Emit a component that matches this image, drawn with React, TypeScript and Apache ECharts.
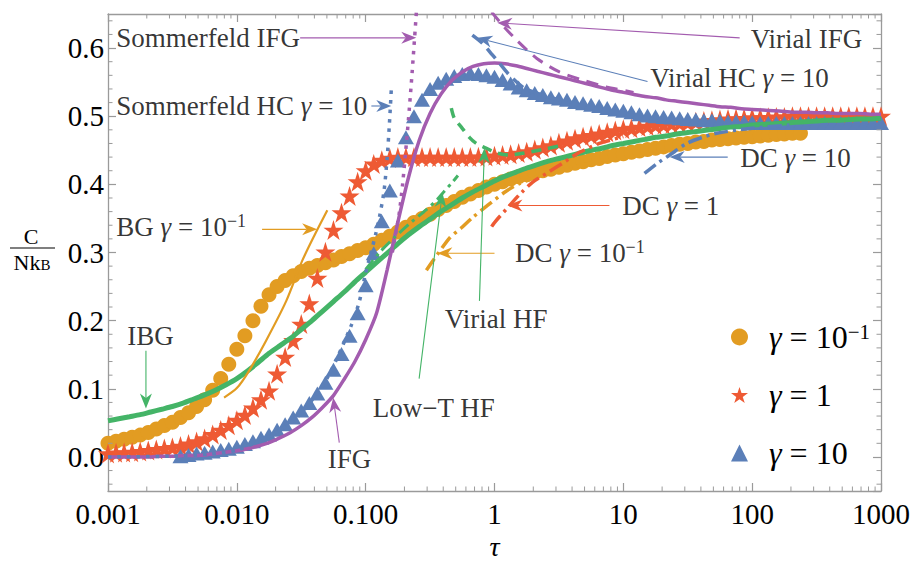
import React, { useEffect, useRef } from "react";
import * as echarts from "echarts";

// ---------- sample temperatures (tau) ----------
// grid used by the marker series (16 samples per decade)
const markerTau = [
  0.001, 0.001155, 0.001334, 0.00154, 0.001778, 0.002054, 0.002371, 0.002738, 0.003162, 0.003652, 0.004217, 0.00487, 0.005623, 0.006494, 0.007499, 0.00866,
  0.01, 0.01155, 0.01334, 0.0154, 0.01778, 0.02054, 0.02371, 0.02738, 0.03162, 0.03652, 0.04217, 0.0487, 0.05623, 0.06494, 0.07499, 0.0866,
  0.1, 0.1155, 0.1334, 0.154, 0.1778, 0.2054, 0.2371, 0.2738, 0.3162, 0.3652, 0.4217, 0.487, 0.5623, 0.6494, 0.7499, 0.866,
  1, 1.155, 1.334, 1.54, 1.778, 2.054, 2.371, 2.738, 3.162, 3.652, 4.217, 4.87, 5.623, 6.494, 7.499, 8.66,
  10, 11.55, 13.34, 15.4, 17.78, 20.54, 23.71, 27.38, 31.62, 36.52, 42.17, 48.7, 56.23, 64.94, 74.99, 86.6,
  100, 115.5, 133.4, 154, 177.8, 205.4, 237.1, 273.8, 316.2, 365.2, 421.7, 487, 562.3, 649.4, 749.9, 866,
  1000,
];
// grid used by the solid curves (12 samples per decade)
const lineTau = [
  0.001, 0.00121, 0.00147, 0.00178, 0.00215, 0.00261, 0.00316, 0.00383, 0.00464, 0.00562, 0.00681, 0.00825,
  0.01, 0.0121, 0.0147, 0.0178, 0.0215, 0.0261, 0.0316, 0.0383, 0.0464, 0.0562, 0.0681, 0.0825,
  0.1, 0.121, 0.147, 0.178, 0.215, 0.261, 0.316, 0.383, 0.464, 0.562, 0.681, 0.825,
  1, 1.21, 1.47, 1.78, 2.15, 2.61, 3.16, 3.83, 4.64, 5.62, 6.81, 8.25,
  10, 12.1, 14.7, 17.8, 21.5, 26.1, 31.6, 38.3, 46.4, 56.2, 68.1, 82.5,
  100, 121, 147, 178, 215, 261, 316, 383, 464, 562, 681, 825, 1000,
];

// ---------- marker series (C / N k_B) ----------
const circlesC = [
  0.020, 0.023, 0.026, 0.029, 0.032, 0.036, 0.041, 0.046, 0.051, 0.058, 0.065, 0.074, 0.084, 0.098, 0.115, 0.136,
  0.158, 0.178, 0.200, 0.221, 0.238, 0.250, 0.259, 0.266, 0.272, 0.277, 0.281, 0.285, 0.289, 0.294, 0.298, 0.303,
  0.307, 0.312, 0.318, 0.324, 0.330, 0.337, 0.344, 0.350, 0.356, 0.363, 0.369, 0.375, 0.381, 0.386, 0.391, 0.396,
  0.400, 0.404, 0.408, 0.411, 0.414, 0.417, 0.420, 0.422, 0.425, 0.428, 0.431, 0.433, 0.436, 0.438, 0.441, 0.443,
  0.445, 0.447, 0.449, 0.451, 0.453, 0.455, 0.457, 0.459, 0.460, 0.462, 0.463, 0.465, 0.466, 0.467, 0.468, 0.469,
  0.470, 0.471, 0.472, 0.473, 0.474, 0.475, 0.475,
];
const starsC = [
  0.005, 0.006, 0.0065, 0.007, 0.008, 0.0095, 0.011, 0.0125, 0.014, 0.016, 0.019, 0.0225, 0.027, 0.033, 0.0395, 0.0465,
  0.054, 0.0615, 0.072, 0.084, 0.097, 0.122, 0.1465, 0.171, 0.195, 0.225, 0.2625, 0.301, 0.333, 0.3585, 0.383, 0.404,
  0.420, 0.430, 0.4355, 0.4385, 0.440, 0.440, 0.440, 0.440, 0.440, 0.440, 0.440, 0.440, 0.440, 0.440, 0.4405, 0.441,
  0.442, 0.443, 0.444, 0.446, 0.448, 0.451, 0.454, 0.457, 0.461, 0.464, 0.467, 0.470, 0.472, 0.474, 0.4765, 0.479,
  0.481, 0.4825, 0.484, 0.4855, 0.487, 0.488, 0.489, 0.490, 0.491, 0.492, 0.493, 0.494, 0.495, 0.496, 0.4965, 0.497,
  0.498, 0.498, 0.4985, 0.499, 0.499, 0.500, 0.500, 0.500, 0.500, 0.500, 0.500, 0.500, 0.500, 0.500, 0.500, 0.500,
  0.500,
];
const trianglesStart = 9;
const trianglesC = [
  0.001, 0.003, 0.005, 0.006, 0.008, 0.010, 0.012,
  0.015, 0.019, 0.023, 0.028, 0.033, 0.040, 0.048, 0.058, 0.068, 0.079, 0.093, 0.109, 0.128, 0.151, 0.178, 0.211,
  0.252, 0.299, 0.346, 0.391, 0.435, 0.469, 0.500, 0.524, 0.540, 0.549, 0.555, 0.559, 0.562, 0.563, 0.562, 0.560,
  0.558, 0.553, 0.548, 0.542, 0.538, 0.534, 0.531, 0.528, 0.526, 0.524, 0.521, 0.519, 0.517, 0.515, 0.512, 0.510,
  0.508, 0.506, 0.503, 0.501, 0.500, 0.499, 0.498, 0.497, 0.496, 0.495, 0.494, 0.494, 0.493, 0.492, 0.492, 0.492,
  0.491, 0.490, 0.490, 0.490, 0.490, 0.490, 0.490, 0.490, 0.490, 0.490, 0.490, 0.490, 0.490, 0.490, 0.490, 0.490, 0.490,
];

// ---------- solid curves ----------
const ifgC = [
  0.000, 0.000, 0.000, 0.000, 0.000, 0.001, 0.001, 0.002, 0.002, 0.003, 0.005, 0.007,
  0.009, 0.012, 0.016, 0.021, 0.028, 0.036, 0.046, 0.058, 0.073, 0.090, 0.114, 0.140,
  0.172, 0.210, 0.275, 0.345, 0.410, 0.465, 0.504, 0.532, 0.552, 0.565, 0.573, 0.577,
  0.578, 0.577, 0.574, 0.570, 0.566, 0.562, 0.558, 0.554, 0.550, 0.546, 0.542, 0.538,
  0.535, 0.532, 0.529, 0.527, 0.524, 0.522, 0.520, 0.518, 0.516, 0.514, 0.513, 0.511,
  0.510, 0.509, 0.508, 0.507, 0.506, 0.506, 0.505, 0.505, 0.504, 0.504, 0.504, 0.503, 0.503,
];
const ibgC = [
  0.053, 0.056, 0.059, 0.062, 0.066, 0.070, 0.074, 0.079, 0.085, 0.091, 0.098, 0.106,
  0.115, 0.126, 0.139, 0.152, 0.163, 0.174, 0.187, 0.200, 0.214, 0.228, 0.242, 0.257,
  0.271, 0.285, 0.299, 0.313, 0.326, 0.338, 0.349, 0.360, 0.370, 0.380, 0.389, 0.397,
  0.405, 0.412, 0.418, 0.424, 0.429, 0.434, 0.438, 0.442, 0.446, 0.450, 0.453, 0.457,
  0.460, 0.463, 0.466, 0.469, 0.471, 0.474, 0.476, 0.478, 0.480, 0.482, 0.484, 0.485,
  0.487, 0.488, 0.489, 0.490, 0.491, 0.492, 0.493, 0.494, 0.494, 0.495, 0.496, 0.496, 0.497,
];

// ---------- asymptotic approximations [tau, C] ----------
const bgLow = [[0.00796, 0.087], [0.01, 0.101], [0.0124, 0.126], [0.0169, 0.171], [0.0242, 0.229], [0.0322, 0.288], [0.04, 0.325], [0.0504, 0.362]];
const dcLow = [[0.296, 0.274], [0.447, 0.321], [0.56, 0.337], [0.673, 0.351], [1.19, 0.388], [1.56, 0.401], [2.5, 0.415], [4, 0.425], [6, 0.432]];
const dcOne = [[0.95, 0.338], [1.0, 0.344], [1.31, 0.369], [1.62, 0.388], [1.97, 0.403], [2.53, 0.416], [3.37, 0.431], [4.57, 0.447], [6.5, 0.46], [10, 0.47]];
const dcTen = [[14.6, 0.416], [18.4, 0.431], [22.9, 0.443], [31, 0.46], [41, 0.469], [53, 0.475], [95, 0.482], [195, 0.487]];
const virialIFG = [[0.95, 0.653], [1.15, 0.634], [1.48, 0.612], [2.12, 0.585], [3.19, 0.565], [4.82, 0.553], [7.4, 0.543], [12, 0.535]];
const virialHC = [[0.673, 0.619], [0.806, 0.607], [0.963, 0.59], [1.09, 0.578], [1.31, 0.56], [1.71, 0.541], [2.67, 0.528], [4, 0.52]];
const virialHF = [[0.462, 0.512], [0.488, 0.497], [0.553, 0.484], [0.638, 0.469], [0.723, 0.46], [0.865, 0.453], [1.0, 0.447], [1.3, 0.443], [1.7, 0.446], [2.5, 0.452], [3.5, 0.458]];
const lowTHF = [[0.1, 0.275], [0.128, 0.30], [0.167, 0.322], [0.218, 0.342], [0.296, 0.363], [0.36, 0.378], [0.408, 0.39], [0.471, 0.403], [0.52, 0.413]];
const sommerfeldIFG = [[0.161, 0.30], [0.170, 0.325], [0.182, 0.357], [0.1935, 0.40], [0.207, 0.46], [0.218, 0.51], [0.230, 0.567], [0.2474, 0.652]];
const sommerfeldHC = [[0.001, 0.0], [0.003, 0.001], [0.006, 0.004], [0.01, 0.01], [0.02, 0.035], [0.03, 0.06], [0.04, 0.088], [0.05, 0.115], [0.06, 0.145], [0.0773, 0.193], [0.089, 0.227], [0.1, 0.27], [0.11, 0.30], [0.12, 0.328], [0.128, 0.352], [0.139, 0.391], [0.147, 0.44], [0.153, 0.49], [0.158, 0.538]];

// ---------- tick labels ----------
const xTickLabels = ["0.001", "0.010", "0.100", "1", "10", "100", "1000"];

// ---------- annotations ----------
const labelTexts = [
  "{t|Sommerfeld IFG}",
  "{t|Sommerfeld HC }{g|γ}{t| = 10}",
  "{t|Virial IFG}",
  "{t|Virial HC }{g|γ}{t| = 10}",
  "{t|DC }{g|γ}{t| = 10}",
  "{t|DC }{g|γ}{t| = 1}",
  "{t|DC }{g|γ}{t| = 10}{s|−1}",
  "{t|Virial HF}",
  "{t|Low−T HF}",
  "{t|IFG}",
  "{t|IBG}",
  "{t|BG }{g|γ}{t| = 10}{s|−1}",
];
const labelAnchors = [
  [0.00115, 0.615], [0.00115, 0.515], [723, 0.613], [16, 0.556], [80, 0.438], [9.7, 0.368],
  [1.43, 0.299], [0.408, 0.203], [0.1125, 0.072], [0.0503, -0.003], [0.0014, 0.178], [0.00115, 0.337],
];
const labelSides = ["right", "right", "left", "right", "right", "right", "right", "right", "right", "right", "right", "right"];
const arrowFrom = [
  [0.031, 0.615], [0.1107, 0.515], [80, 0.615], [15.4, 0.551], [64.6, 0.44], [7.8, 0.369],
  [1.0, 0.299], [0.764, 0.229], [0.26, 0.115], [0.0624, 0.021], [0.00197, 0.156], [0.0157, 0.334],
];
const arrowTo = [
  [0.247, 0.615], [0.158, 0.515], [1.05, 0.637], [0.736, 0.615], [22.9, 0.44], [1.26, 0.369],
  [0.36, 0.299], [0.835, 0.453], [0.394, 0.388], [0.056, 0.087], [0.00197, 0.071], [0.042, 0.334],
];

const ORANGE = "#E29C22";
const RED = "#EE5A34";
const BLUE = "#5B7FB8";
const PURPLE = "#A35CAF";
const GREEN = "#44B467";
const arrowColors = [PURPLE, BLUE, PURPLE, BLUE, BLUE, RED, ORANGE, GREEN, GREEN, PURPLE, GREEN, ORANGE];

const legendLabels: Record<string, string> = {
  g01: "{sp| }{g|γ}{t| = 10}{s|−1}",
  g1: "{sp| }{g|γ}{t| = 1}",
  g10: "{sp| }{g|γ}{t| = 10}",
};

const STAR = "path://M0,-10L2.245,-3.09L9.511,-3.09L3.633,1.18L5.878,8.09L0,3.82L-5.878,8.09L-3.633,1.18L-9.511,-3.09L-2.245,-3.09Z";
const FONT = "Liberation Serif";
const Y_MIN = -0.05;
const Y_MAX = 0.65;

function pairs(taus: number[], vals: number[]) {
  return vals.map((v, i) => [taus[i], v]);
}

function lineSeries(data: number[][], color: string, width: number, type: any, z: number) {
  return {
    type: "line",
    data,
    symbol: "none",
    showSymbol: false,
    smooth: 0.25,
    silent: true,
    clip: true,
    z,
    lineStyle: { color, width, type, cap: "butt" },
  };
}

const labelRich = {
  t: { fontFamily: FONT, fontSize: 27, lineHeight: 30, color: "#000" },
  g: { fontFamily: FONT, fontSize: 27, lineHeight: 30, fontStyle: "italic", color: "#000" },
  s: { fontFamily: FONT, fontSize: 18, lineHeight: 16, verticalAlign: "top", color: "#000" },
};
const legendRich = {
  sp: { width: 16, fontSize: 10, lineHeight: 32 },
  t: { fontFamily: FONT, fontSize: 32, lineHeight: 32, color: "#000" },
  g: { fontFamily: FONT, fontSize: 32, lineHeight: 32, fontStyle: "italic", color: "#000" },
  s: { fontFamily: FONT, fontSize: 21, lineHeight: 17, verticalAlign: "top", color: "#000" },
};

export default function App() {
  const ref = useRef<HTMLDivElement>(null);
  useEffect(() => {
    document.body.style.margin = "0";
    const chart = echarts.init(ref.current!, undefined, { renderer: "svg" });

    const xMinor: number[][] = [];
    for (let k = -3; k < 3; k++) {
      for (let m = 2; m <= 9; m++) xMinor.push([m * Math.pow(10, k), Y_MIN]);
    }
    const yMinor: number[][] = [];
    for (let i = -2; i <= 32; i++) {
      if (i % 5 !== 0) yMinor.push([0.001, Math.round(i * 2) / 100]);
    }

    const axisGray = "#9a9a9a";
    const xAxisBase = {
      type: "log",
      logBase: 10,
      min: 0.001,
      max: 1000,
      axisLine: { show: true, onZero: false, lineStyle: { color: axisGray, width: 1.3 } },
      axisTick: { show: true, inside: true, length: 8, lineStyle: { color: axisGray, width: 1.2 } },
      splitLine: { show: false },
      minorTick: { show: false },
    };
    const yAxisBase = {
      type: "value",
      min: Y_MIN,
      max: Y_MAX,
      splitNumber: 7,
      axisLine: { show: true, onZero: false, lineStyle: { color: axisGray, width: 1.3 } },
      axisTick: { show: true, inside: true, length: 8, lineStyle: { color: axisGray, width: 1.2 } },
      splitLine: { show: false },
    };

    const option: any = {
      animation: false,
      backgroundColor: "#fff",
      textStyle: { fontFamily: FONT },
      grid: { left: 108, right: 33, top: 14, bottom: 72, containLabel: false, outerBoundsMode: "none" },
      xAxis: [
        {
          ...xAxisBase,
          position: "bottom",
          name: "τ",
          nameLocation: "middle",
          nameGap: 38,
          nameTextStyle: { fontFamily: FONT, fontSize: 28, fontStyle: "italic", color: "#000" },
          axisLabel: {
            color: "#000",
            fontFamily: FONT,
            fontSize: 29,
            margin: 8,
            formatter: (v: number) => xTickLabels[Math.round(Math.log10(v)) + 3],
          },
        },
        { ...xAxisBase, position: "top", axisLabel: { show: false } },
      ],
      yAxis: [
        {
          ...yAxisBase,
          position: "left",
          axisLabel: {
            color: "#000",
            fontFamily: FONT,
            fontSize: 29,
            margin: 4,
            showMinLabel: false,
            showMaxLabel: false,
            formatter: (v: number) => v.toFixed(1),
          },
        },
        { ...yAxisBase, position: "right", axisLabel: { show: false } },
      ],
      legend: {
        orient: "vertical",
        left: 731,
        top: 321,
        padding: 0,
        itemWidth: 17,
        itemHeight: 17,
        itemGap: 26,
        selectedMode: false,
        data: [
          { name: "g01", icon: "circle" },
          { name: "g1", icon: STAR },
          { name: "g10", icon: "triangle" },
        ],
        formatter: (name: string) => legendLabels[name],
        textStyle: { rich: legendRich },
      },
      graphic: [
        {
          type: "text",
          style: { text: "C", x: 31, y: 236, font: `22px "${FONT}"`, align: "center", verticalAlign: "middle", fill: "#000" },
        },
        {
          type: "line",
          shape: { x1: 10, y1: 248, x2: 55, y2: 248 },
          style: { stroke: "#000", lineWidth: 1.2 },
        },
        {
          type: "text",
          style: {
            text: "{n|Nk}{b|B}",
            x: 32,
            y: 262,
            align: "center",
            verticalAlign: "middle",
            rich: {
              n: { fontFamily: FONT, fontSize: 22, lineHeight: 20, fill: "#000", color: "#000" },
              b: { fontFamily: FONT, fontSize: 15, lineHeight: 4, verticalAlign: "bottom", fill: "#000", color: "#000" },
            },
          },
        },
      ],
      series: [
        {
          type: "scatter",
          name: "g01",
          data: pairs(markerTau, circlesC),
          symbol: "circle",
          symbolSize: 15,
          itemStyle: { color: ORANGE, opacity: 1 },
          silent: true,
          z: 2,
        },
        {
          type: "scatter",
          name: "g1",
          data: pairs(markerTau, starsC),
          symbol: STAR,
          symbolSize: 20,
          itemStyle: { color: RED, opacity: 1 },
          silent: true,
          z: 2,
        },
        {
          type: "scatter",
          name: "g10",
          data: pairs(markerTau.slice(trianglesStart), trianglesC),
          symbol: "triangle",
          symbolSize: [16, 14],
          itemStyle: { color: BLUE, opacity: 1 },
          silent: true,
          z: 2,
        },
        lineSeries(pairs(lineTau, ibgC), GREEN, 5, "solid", 3),
        lineSeries(pairs(lineTau, ifgC), PURPLE, 3.5, "solid", 3),
        lineSeries(bgLow, ORANGE, 2.2, "solid", 3),
        lineSeries(dcLow, ORANGE, 3.5, [14, 5, 3, 5], 3),
        lineSeries(dcOne, RED, 3.5, [14, 5, 3, 5], 3),
        lineSeries(dcTen, BLUE, 3.5, [14, 5, 3, 5], 3),
        lineSeries(virialIFG, PURPLE, 3, [12, 8], 3),
        lineSeries(virialHC, BLUE, 3.5, [13, 7], 3),
        lineSeries(virialHF, GREEN, 3.5, [10, 7], 3),
        lineSeries(lowTHF, GREEN, 3, [12, 5, 3, 5], 3),
        lineSeries(sommerfeldIFG, PURPLE, 3.5, [3.5, 6], 3),
        lineSeries(sommerfeldHC, BLUE, 3.5, [3.5, 6], 3),
        {
          type: "custom",
          silent: true,
          z: 5,
          data: arrowFrom.map((f, i) => [f[0], f[1], arrowTo[i][0], arrowTo[i][1]]),
          encode: { x: [0, 2], y: [1, 3] },
          renderItem: (params: any, api: any) => {
            const p1 = api.coord([api.value(0), api.value(1)]);
            const p2 = api.coord([api.value(2), api.value(3)]);
            const dx = p2[0] - p1[0];
            const dy = p2[1] - p1[1];
            const len = Math.hypot(dx, dy) || 1;
            const ux = dx / len;
            const uy = dy / len;
            const nx = -uy;
            const ny = ux;
            const L = 15;
            const W = 6;
            const bx = p2[0] - ux * L;
            const by = p2[1] - uy * L;
            const notch = [p2[0] - ux * L * 0.7, p2[1] - uy * L * 0.7];
            const color = arrowColors[params.dataIndex];
            return {
              type: "group",
              children: [
                { type: "line", shape: { x1: p1[0], y1: p1[1], x2: notch[0], y2: notch[1] }, style: { stroke: color, lineWidth: 1.1 } },
                { type: "polygon", shape: { points: [[p2[0], p2[1]], [bx + nx * W, by + ny * W], notch, [bx - nx * W, by - ny * W]] }, style: { fill: color } },
              ],
            };
          },
        },
        {
          type: "scatter",
          silent: true,
          z: 6,
          symbolSize: 1,
          itemStyle: { color: "rgba(0,0,0,0)" },
          data: labelAnchors.map((a, i) => ({
            value: a,
            label: {
              show: true,
              position: labelSides[i],
              distance: 0,
              formatter: labelTexts[i],
              rich: labelRich,
            },
          })),
        },
        {
          type: "custom",
          silent: true,
          z: 7,
          data: xMinor,
          renderItem: (params: any, api: any) => {
            const v = api.value(0);
            const b = api.coord([v, Y_MIN]);
            const t = api.coord([v, Y_MAX]);
            const st = { stroke: axisGray, lineWidth: 1 };
            return {
              type: "group",
              children: [
                { type: "line", shape: { x1: b[0], y1: b[1], x2: b[0], y2: b[1] - 4.5 }, style: st },
                { type: "line", shape: { x1: t[0], y1: t[1], x2: t[0], y2: t[1] + 4.5 }, style: st },
              ],
            };
          },
        },
        {
          type: "custom",
          silent: true,
          z: 7,
          data: yMinor,
          renderItem: (params: any, api: any) => {
            const v = api.value(1);
            const l = api.coord([0.001, v]);
            const r = api.coord([1000, v]);
            const st = { stroke: axisGray, lineWidth: 1 };
            return {
              type: "group",
              children: [
                { type: "line", shape: { x1: l[0], y1: l[1], x2: l[0] + 4.5, y2: l[1] }, style: st },
                { type: "line", shape: { x1: r[0], y1: r[1], x2: r[0] - 4.5, y2: r[1] }, style: st },
              ],
            };
          },
        },
      ],
    };

    chart.setOption(option);
    return () => chart.dispose();
  }, []);
  return <div ref={ref} style={{ width: 914, height: 563 }} />;
}
